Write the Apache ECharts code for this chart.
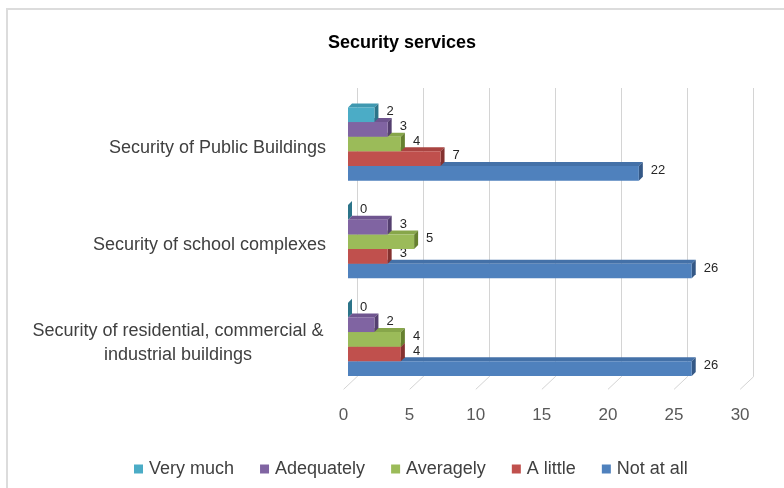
<!DOCTYPE html>
<html>
<head>
<meta charset="utf-8">
<script src="https://cdn.jsdelivr.net/npm/echarts@6/dist/echarts.min.js"></script>
<style>
  html, body { margin: 0; padding: 0; background: #fff; }
  #frame { position: absolute; left: 6px; top: 8px; width: 800px; height: 500px;
           border: 2px solid #dcdcdc; box-sizing: border-box; pointer-events: none; }
  #chart { position: absolute; left: 0; top: 0; width: 784px; height: 488px; }
</style>
</head>
<body>
<div id="chart"></div>
<div id="frame"></div>
<script>
// Survey answers on security services, counts per answer level
const categories = [
  'Security of Public Buildings',
  'Security of school complexes',
  'Security of residential, commercial &\nindustrial buildings'
];
const seriesNames = ['Very much', 'Adequately', 'Averagely', 'A little', 'Not at all'];
const veryMuch   = [2, 0, 0];
const adequately = [3, 3, 2];
const averagely  = [4, 5, 4];
const aLittle    = [7, 3, 4];
const notAtAll   = [22, 26, 26];
const floorTicks = [0, 5, 10, 15, 20, 25, 30];

const seriesValues = [veryMuch, adequately, averagely, aLittle, notAtAll];
const palette = [
  { front: '#4bacc6', top: '#3f98b0', side: '#2c7489' },
  { front: '#8064a2', top: '#6f558f', side: '#543f6f' },
  { front: '#9bbb59', top: '#87a64a', side: '#66802f' },
  { front: '#c0504d', top: '#a94441', side: '#843230' },
  { front: '#4f81bd', top: '#4471a8', side: '#345886' }
];

const DX = 4, DY = 4;          // depth of each box
const GAP = 0.25;               // share of each category band left empty
const FONT = '"Liberation Sans", Arial, sans-serif';

function boxRenderer(idx) {
  const n = seriesNames.length;
  const col = palette[idx];
  return function (params, api) {
    const cat = api.value(0);
    const val = api.value(1);
    const band = api.size([0, 1])[1];
    const groupH = band * (1 - GAP);
    const barH = groupH / n;
    const base = api.coord([0, cat]);
    const end = api.coord([val, cat]);
    const x0 = base[0], x1 = end[0];
    const top = base[1] - groupH / 2 + idx * barH;
    const bot = top + barH;
    return {
      type: 'group',
      children: [
        { type: 'polygon', shape: { points: [[x0, top], [x0 + DX, top - DY], [x1 + DX, top - DY], [x1, top]] },
          style: { fill: col.top } },
        { type: 'polygon', shape: { points: [[x1, top], [x1 + DX, top - DY], [x1 + DX, bot - DY], [x1, bot]] },
          style: { fill: col.side } },
        { type: 'rect', shape: { x: x0, y: top, width: x1 - x0, height: barH },
          style: { fill: col.front } },
        { type: 'text', x: x1 + DX + 8, y: (top + bot) / 2 - 3,
          style: { text: String(val), fill: '#262626', font: '13px ' + FONT,
                   align: 'left', verticalAlign: 'middle' } }
      ]
    };
  };
}

const series = seriesNames.map((name, i) => ({
  name: name,
  type: 'custom',
  xAxisIndex: 0,
  yAxisIndex: 0,
  z: 10 - i,
  itemStyle: { color: palette[i].front },
  renderItem: boxRenderer(i),
  encode: { x: 1, y: 0 },
  data: seriesValues[i].map((v, c) => [c, v])
}));

// slanted floor edges running from the back wall to the front
series.push({
  name: 'floor',
  type: 'custom',
  xAxisIndex: 1,
  yAxisIndex: 1,
  silent: true,
  z: 1,
  renderItem: function (params, api) {
    const p = api.coord([api.value(0), 0]);
    return { type: 'line', shape: { x1: p[0], y1: p[1], x2: p[0] - 13.4, y2: p[1] + 12.6 },
             style: { stroke: '#d4d4d4', lineWidth: 1 } };
  },
  data: floorTicks.map(v => [v])
});

const chart = echarts.init(document.getElementById('chart'), null, { renderer: 'canvas' });
chart.setOption({
  animation: false,
  backgroundColor: '#fff',
  title: {
    text: 'Security services',
    left: 328,
    top: 34,
    padding: 0,
    textStyle: { fontFamily: FONT, fontSize: 18, fontWeight: 'bold', color: '#000' }
  },
  legend: {
    data: seriesNames,
    left: 129,
    top: 455,
    icon: 'rect',
    itemWidth: 9,
    itemHeight: 9,
    itemGap: 26,
    textStyle: { fontFamily: FONT, fontSize: 18, color: '#404040', padding: [0, 0, 0, 1] }
  },
  grid: [
    { left: 348, width: 396.6, top: 95.2, height: 293 },
    { left: 357, width: 396.6, top: 88, height: 288.7 },
    { left: 343.5, width: 396.6, top: 380, height: 9.5 }
  ],
  xAxis: [
    { gridIndex: 0, type: 'value', min: 0, max: 30, interval: 5,
      axisLine: { show: false }, axisTick: { show: false }, axisLabel: { show: false },
      splitLine: { show: false } },
    { gridIndex: 1, type: 'value', min: 0, max: 30, interval: 5,
      axisLine: { show: false }, axisTick: { show: false }, axisLabel: { show: false },
      splitLine: { show: true, lineStyle: { color: '#d4d4d4', width: 1 } } },
    { gridIndex: 2, type: 'value', min: 0, max: 30, interval: 5,
      axisLine: { show: false }, axisTick: { show: false }, splitLine: { show: false },
      axisLabel: { margin: 17, fontFamily: FONT, fontSize: 17, color: '#595959' } }
  ],
  yAxis: [
    { gridIndex: 0, type: 'category', inverse: true, data: categories,
      axisLine: { show: false }, axisTick: { show: false },
      axisLabel: {
        margin: 22, fontFamily: FONT, fontSize: 18, color: '#404040',
        padding: [7, 0, 0, 0],
        formatter: function (v) {
          if (v.indexOf('\n') < 0) return v;
          return v.split('\n').map(s => '{c|' + s + '}').join('\n');
        },
        rich: { c: { width: 296, align: 'center', lineHeight: 24,
                     fontFamily: FONT, fontSize: 18, color: '#404040' } }
      } },
    { gridIndex: 1, type: 'value', min: 0, max: 1, show: false },
    { gridIndex: 2, type: 'value', min: 0, max: 1, show: false }
  ],
  series: series
});
</script>
</body>
</html>
